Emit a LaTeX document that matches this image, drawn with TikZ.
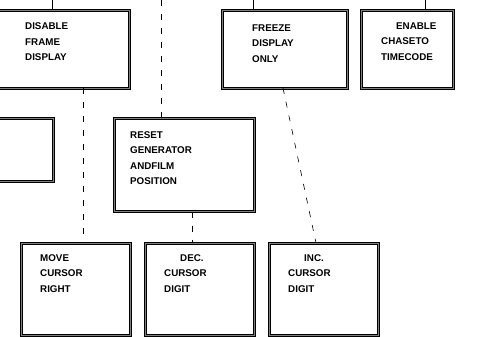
\documentclass[tikz,border=0pt]{standalone}
\usepackage{fontspec}
\setmainfont{Liberation Sans}
\usetikzlibrary{calc}

\tikzset{
  box/.style={draw=black, line width=0.55pt, double=gray, double distance=1.4pt,
    rectangle, anchor=north west, inner sep=0pt},
  lbl/.style={anchor=north west, inner sep=0pt, align=left,
    font=\fontsize{9.8}{15.5}\selectfont\bfseries},
  link/.style={line width=0.6pt},
  dlink/.style={line width=0.6pt, dash pattern=on 6pt off 8pt}
}

\begin{document}
\begin{tikzpicture}[x=1pt, y=-1pt]
  \useasboundingbox (0,0) rectangle (488,337);
  \clip (0,0) rectangle (488,337);
  % boxes, top row
  \node[box, minimum width=139pt, minimum height=78pt] (disable) at (-10,10) {};
  \node[box, minimum width=125pt, minimum height=78pt] (freeze) at (222,10) {};
  \node[box, minimum width=92pt, minimum height=78pt] (enable) at (361,10) {};
  % middle row
  \node[box, minimum width=63pt, minimum height=63pt] (side) at (-10,118) {};
  \node[box, minimum width=140pt, minimum height=93pt] (reset) at (114,118) {};
  % bottom row
  \node[box, minimum width=109pt, minimum height=92pt] (move) at (21,243) {};
  \node[box, minimum width=109pt, minimum height=92pt] (dec) at (145,243) {};
  \node[box, minimum width=109pt, minimum height=92pt] (inc) at (269,243) {};
  % texts
  \node[lbl] (disabletxt) at (25,22.5) {DISABLE\\FRAME\\DISPLAY};
  \node[lbl] (freezetxt) at (252,24.5) {FREEZE\\DISPLAY\\ONLY};
  \node[lbl] (enabletxt) at (381,22.5) {\hspace*{15pt}ENABLE\\CHASETO\\TIMECODE};
  \node[lbl] (resettxt) at (130,131) {RESET\\GENERATOR\\ANDFILM\\POSITION};
  \node[lbl] (movetxt) at (40,254) {MOVE\\CURSOR\\RIGHT};
  \node[lbl] (dectxt) at (164,254) {\hspace*{16pt}DEC.\\CURSOR\\DIGIT};
  \node[lbl] (inctxt) at (288,254) {\hspace*{16pt}INC.\\CURSOR\\DIGIT};
  % free ends at the page edges
  \coordinate (upA) at (52,0);
  \coordinate (upB) at (253,0);
  \coordinate (upC) at (425,0);
  \coordinate (upD) at (161,0);
  \coordinate (downA) at (68,340);
  \coordinate (downB) at (332,340);
  % connectors
  \draw[link] (upA) -- (upA |- disable.north);
  \draw[link] (upB) -- (upB |- freeze.north);
  \draw[link] (upC) -- (upC |- enable.north);
  \draw[dlink] (upD) -- (upD |- reset.north);
  \draw[dlink] (83,88) coordinate (dA) -- (dA |- move.north);
  \draw[dlink] ($(reset.south)+(8,0)$) coordinate (dB) -- (dB |- dec.north);
  \draw[dlink] (283,88) coordinate (dC) -- (316,0 |- inc.north);
  \draw[link] (downA |- move.south) -- (downA);
  \draw[link] (downB |- inc.south) -- (downB);
\end{tikzpicture}
\end{document}
